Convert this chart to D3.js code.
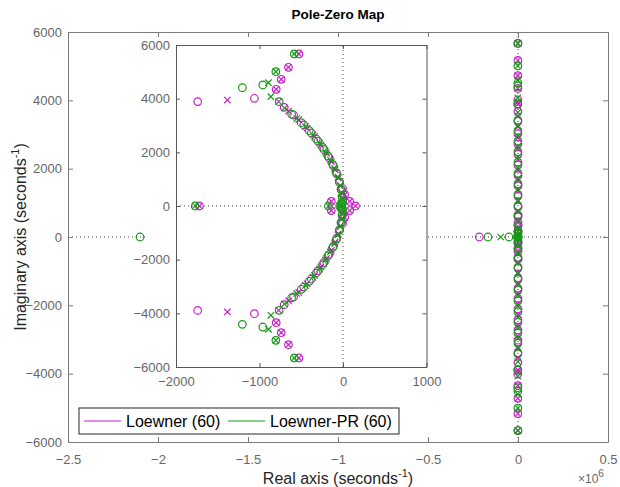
<!DOCTYPE html>
<html><head><meta charset="utf-8">
<script src="https://cdn.jsdelivr.net/npm/d3@7"></script>
<style>
body{margin:0;background:#fff}
svg{display:block}
text{font-family:"Liberation Sans",Arial,Helvetica,sans-serif}
</style>
</head><body>
<svg id="c" width="620" height="487"></svg>
<script>
// ---------------- data (upper half-plane + real axis; conjugates mirrored) ----------------
const seriesNames = ["Loewner (60)", "Loewner-PR (60)"];
const seriesColors = ["#c81ec8", "#169a16"];

// Loewner (60) zeros
const lwZeroRe = [-1740, -1061, -800, -740, -653, -528, -704, -592, -470, -380, -300, -228, -168, -116, -74, -40, -20, -8, -140, 80, 20, -5, -1720, 150, -0.215e6];
const lwZeroIm = [3890, 4013, 4349, 4721, 5169, 5665, 3676, 3390, 3020, 2720, 2420, 2110, 1800, 1500, 1200, 880, 600, 330, 170, 170, 420, 650, 0, 0, 0];
// Loewner (60) poles
const lwPoleRe = [-1385, -800, -740, -653, -528, -770, -650, -530, -430, -340, -265, -198, -140, -95, -57, -30, -13, -140, 80, 20, -1720, 150, -3, -30];
const lwPoleIm = [3950, 4349, 4721, 5169, 5665, 3890, 3540, 3220, 2900, 2590, 2270, 1960, 1650, 1350, 1040, 740, 470, 170, 170, 420, 0, 0, 250, 0];

// Loewner-PR (60) zeros
const prZeroRe = [-1205, -960, -804, -584, -764, -615, -500, -404, -320, -244, -180, -124, -80, -44, -24, -12, -4, -25, -1770, -175, -40, -15, -2.1e6, -0.167e6, -0.05e6];
const prZeroIm = [4410, 4510, 5006, 5665, 3888, 3420, 3105, 2807, 2497, 2186, 1863, 1553, 1242, 907, 621, 348, 161, 90, 0, 0, 0, 0, 0, 0, 0];
// Loewner-PR (60) poles
const prPoleRe = [-893, -804, -584, -864, -700, -555, -450, -360, -280, -210, -150, -100, -60, -32, -16, -6, -15, -1770, -175, -28, -0.096e6];
const prPoleIm = [4596, 5006, 5665, 4074, 3650, 3260, 2960, 2650, 2340, 2020, 1710, 1400, 1075, 765, 485, 255, 60, 0, 0, 0, 0];

// tick values
const outerXTicks = [-2.5e6, -2e6, -1.5e6, -1e6, -0.5e6, 0, 0.5e6];
const outerYTicks = [-6000, -4000, -2000, 0, 2000, 4000, 6000];
const insetXTicks = [-2000, -1000, 0, 1000];
const insetYTicks = [-6000, -4000, -2000, 0, 2000, 4000, 6000];

// ---------------- build point sets ----------------
function withConj(re, im) {
  const pts = re.map((r, i) => ({re: r, im: im[i]}));
  const conj = pts.filter(p => p.im > 0).map(p => ({re: p.re, im: -p.im}));
  return pts.concat(conj);
}
const series = [
  {zeros: withConj(lwZeroRe, lwZeroIm), poles: withConj(lwPoleRe, lwPoleIm), color: seriesColors[0]},
  {zeros: withConj(prZeroRe, prZeroIm), poles: withConj(prPoleRe, prPoleIm), color: seriesColors[1]}
];

// ---------------- scales ----------------
const svg = d3.select("#c");
const oX = d3.scaleLinear().domain([-2.5e6, 0.5e6]).range([68, 608]);
const oY = d3.scaleLinear().domain([-6000, 6000]).range([442, 32]);
const iX = d3.scaleLinear().domain([-2000, 1000]).range([176, 426.5]);
const iY = d3.scaleLinear().domain([-6000, 6000]).range([367, 45]);

const tickColor = "#666";
const boxColor = "#7a7a7a";

function styleAxis(g, lineCol) {
  g.select(".domain").attr("stroke", lineCol).attr("stroke-width", 1);
  g.selectAll(".tick line").attr("stroke", lineCol);
  g.selectAll(".tick text").attr("fill", tickColor).attr("font-size", 13)
    .attr("font-family", '"Liberation Sans",Arial,sans-serif');
  g.attr("font-size", null).attr("font-family", null);
}

const defs = svg.append("defs");
defs.append("clipPath").attr("id", "oclip").append("rect")
  .attr("x", 68).attr("y", 32).attr("width", 540).attr("height", 410);
defs.append("clipPath").attr("id", "iclip").append("rect")
  .attr("x", 176).attr("y", 45).attr("width", 250.5).attr("height", 322);

// ---------------- outer axes ----------------
const outer = svg.append("g");
outer.append("rect").attr("x", 68).attr("y", 32).attr("width", 540).attr("height", 410).attr("fill", "#fff");

// dotted zero lines
const oData = outer.append("g").attr("clip-path", "url(#oclip)");
oData.append("line").attr("x1", oX(-2.5e6)).attr("x2", oX(0.5e6)).attr("y1", oY(0)).attr("y2", oY(0))
  .attr("stroke", "#444").attr("stroke-dasharray", "1,3");
oData.append("line").attr("x1", oX(0)).attr("x2", oX(0)).attr("y1", oY(-6000)).attr("y2", oY(6000))
  .attr("stroke", "#444").attr("stroke-dasharray", "1,3");

function drawMarks(g, sx, sy) {
  series.forEach(s => {
    g.append("g").selectAll("circle").data(s.zeros).join("circle")
      .attr("cx", d => sx(d.re)).attr("cy", d => sy(d.im)).attr("r", 3.8)
      .attr("fill", "none").attr("stroke", s.color).attr("stroke-width", 1.2);
    g.append("g").selectAll("path").data(s.poles).join("path")
      .attr("transform", d => `translate(${sx(d.re)},${sy(d.im)})`)
      .attr("d", "M-3.2,-3.2L3.2,3.2M-3.2,3.2L3.2,-3.2")
      .attr("fill", "none").attr("stroke", s.color).attr("stroke-width", 1.2);
  });
}
drawMarks(oData, oX, oY);

outer.append("g").attr("transform", "translate(0,442)")
  .call(d3.axisBottom(oX).tickValues(outerXTicks).tickSizeInner(-5).tickSizeOuter(0).tickPadding(13)
    .tickFormat(d => d3.format("")(d / 1e6)))
  .call(g => styleAxis(g, boxColor));
outer.append("g").attr("transform", "translate(0,32)")
  .call(d3.axisTop(oX).tickValues(outerXTicks).tickSizeInner(-5).tickSizeOuter(0).tickFormat(""))
  .call(g => styleAxis(g, boxColor));
outer.append("g").attr("transform", "translate(68,0)")
  .call(d3.axisLeft(oY).tickValues(outerYTicks).tickSizeInner(-5).tickSizeOuter(0).tickPadding(6)
    .tickFormat(d3.format("")))
  .call(g => styleAxis(g, boxColor));
outer.append("g").attr("transform", "translate(608,0)")
  .call(d3.axisRight(oY).tickValues(outerYTicks).tickSizeInner(-5).tickSizeOuter(0).tickFormat(""))
  .call(g => styleAxis(g, boxColor));

// exponent label
const ex = svg.append("text").attr("x", 578).attr("y", 483).attr("fill", tickColor).attr("font-size", 12);
ex.append("tspan").text("×10");
ex.append("tspan").attr("dy", -6).attr("font-size", 10).text("6");

// ---------------- inset axes ----------------
const inset = svg.append("g");
inset.append("rect").attr("x", 145).attr("y", 40).attr("width", 281.5).attr("height", 327).attr("fill", "#fff");
const iData = inset.append("g").attr("clip-path", "url(#iclip)");
iData.append("line").attr("x1", iX(-2000)).attr("x2", iX(1000)).attr("y1", iY(0)).attr("y2", iY(0))
  .attr("stroke", "#444").attr("stroke-dasharray", "1,3");
iData.append("line").attr("x1", iX(0)).attr("x2", iX(0)).attr("y1", iY(-6000)).attr("y2", iY(6000))
  .attr("stroke", "#444").attr("stroke-dasharray", "1,3");
drawMarks(iData, iX, iY);

const insetLine = "#555";
inset.append("g").attr("transform", "translate(0,367)")
  .call(d3.axisBottom(iX).tickValues(insetXTicks).tickSizeInner(-4).tickSizeOuter(0).tickPadding(10)
    .tickFormat(d3.format("")))
  .call(g => styleAxis(g, insetLine));
inset.append("g").attr("transform", "translate(0,45)")
  .call(d3.axisTop(iX).tickValues(insetXTicks).tickSizeInner(-4).tickSizeOuter(0).tickFormat(""))
  .call(g => styleAxis(g, insetLine));
inset.append("g").attr("transform", "translate(176,0)")
  .call(d3.axisLeft(iY).tickValues(insetYTicks).tickSizeInner(-4).tickSizeOuter(0).tickPadding(6)
    .tickFormat(d3.format("")))
  .call(g => styleAxis(g, insetLine));
inset.append("g").attr("transform", "translate(426.5,0)")
  .call(d3.axisRight(iY).tickValues(insetYTicks).tickSizeInner(-4).tickSizeOuter(0).tickFormat(""))
  .call(g => styleAxis(g, insetLine));

// ---------------- titles ----------------
svg.append("text").attr("x", 338).attr("y", 19).attr("text-anchor", "middle")
  .attr("font-size", 13.5).attr("font-weight", "bold").attr("fill", "#000").text("Pole-Zero Map");

const xl = svg.append("text").attr("x", 338).attr("y", 484).attr("text-anchor", "middle")
  .attr("font-size", 16).attr("fill", "#262626");
xl.append("tspan").text("Real axis (seconds");
xl.append("tspan").attr("dy", -7).attr("font-size", 11).text("-1");
xl.append("tspan").attr("dy", 7).text(")");

const yl = svg.append("text").attr("transform", "translate(26,237) rotate(-90)").attr("text-anchor", "middle")
  .attr("font-size", 16).attr("fill", "#262626");
yl.append("tspan").text("Imaginary axis (seconds");
yl.append("tspan").attr("dy", -7).attr("font-size", 11).text("-1");
yl.append("tspan").attr("dy", 7).text(")");

// ---------------- legend ----------------
const lg = svg.append("g");
lg.append("rect").attr("x", 79).attr("y", 408).attr("width", 320).attr("height", 26)
  .attr("fill", "#fff").attr("stroke", "#262626").attr("stroke-width", 1);
const legX = [84, 228];
seriesNames.forEach((n, i) => {
  lg.append("line").attr("x1", legX[i]).attr("x2", legX[i] + 37).attr("y1", 421).attr("y2", 421)
    .attr("stroke", seriesColors[i]).attr("stroke-width", 1);
  lg.append("text").attr("x", legX[i] + 42).attr("y", 427).attr("font-size", 16).attr("fill", "#000").text(n);
});
</script>
</body></html>
